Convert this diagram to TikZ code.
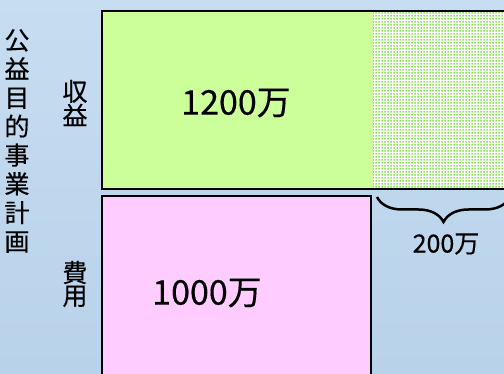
\documentclass[tikz,border=0pt]{standalone}
\usepackage{fontspec}
\setmainfont{Noto Sans CJK JP}[FakeBold=0.4]
\usetikzlibrary{patterns.meta,decorations.pathreplacing}
\definecolor{bgtop}{HTML}{C7DDF1}
\definecolor{bgbot}{HTML}{B8D2EA}
\definecolor{revgreen}{HTML}{CCFF99}
\definecolor{dotgreen}{HTML}{88E450}
\definecolor{costpink}{HTML}{FFCCFF}
\tikzdeclarepattern{
  name=gdots,
  type=uncolored,
  bounding box={(0pt,0pt) and (3pt,3pt)},
  tile size={(3pt,3pt)},
  code={\fill (0.4pt,0.4pt) rectangle (2.4pt,2.4pt);}
}
\tikzset{
  box/.style={draw=black, line width=2pt},
  label/.style={inner sep=0pt, font=\fontsize{25}{28.75}\selectfont, align=center},
  amount/.style={inner sep=0pt, font=\fontsize{34}{38}\selectfont},
}
\begin{document}
\begin{tikzpicture}[x=1pt,y=-1pt]
\useasboundingbox (0,0) rectangle (504,374);
\clip (0,0) rectangle (504,374);
\shade[top color=bgtop, bottom color=bgbot] (0,0) rectangle (504,374);
% revenue box
\path[box, fill=revgreen] (102,11) rectangle (520,189);
\fill[white] (373,12) rectangle (520,188);
\fill[pattern={gdots}, pattern color=dotgreen] (373,12) rectangle (520,188);
\draw[black, line width=2pt] (102,11) -- (520,11) (102,189) -- (520,189);
\node[amount] (rev) at (236,103) {1200万};
% cost box
\path[box, fill=costpink] (102,196) rectangle (371,390);
\node[amount] (cost) at (207,293) {1000万};
% labels
\node[label] (title) at (17,141) {公\\益\\目\\的\\事\\業\\計\\画};
\node[label, font=\fontsize{25}{23}\selectfont] (revl) at (75,103) {収\\益};
\node[label, font=\fontsize{25}{23}\selectfont] (costl) at (75,284) {費\\用};
% brace
\coordinate (bl) at (377,197);
\coordinate (br) at (510,197);
\draw[line width=2.5pt, decorate, decoration={brace, mirror, amplitude=25pt, aspect=0.5}] (bl) -- (br);
\node[inner sep=0pt, font=\fontsize{25}{28}\selectfont] (diff) at (446,244) {200万};
\end{tikzpicture}
\end{document}
